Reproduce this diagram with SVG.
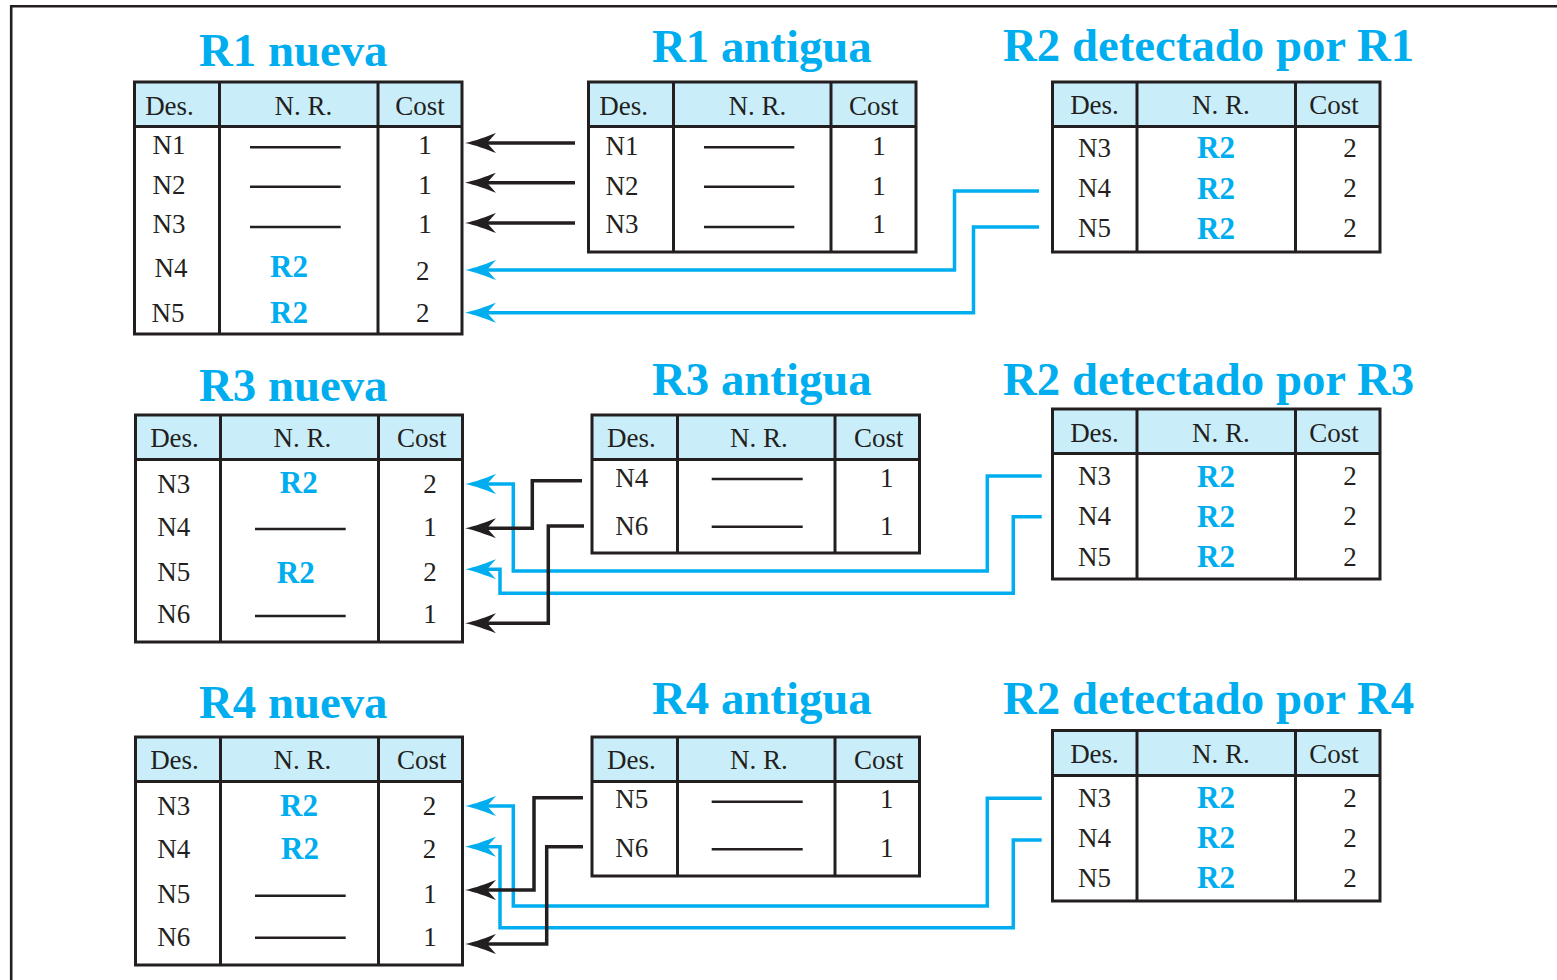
<svg xmlns="http://www.w3.org/2000/svg" width="1557" height="980" viewBox="0 0 1557 980">
<style>
.frame{fill:none;stroke:#231f20;stroke-width:2.6}
.hdr{fill:#c9eefa;stroke:none}
.box{fill:none;stroke:#231f20;stroke-width:3}
.ln{stroke:#231f20;stroke-width:3}
.dash{stroke:#231f20;stroke-width:2.6}
.t{font-family:"Liberation Serif","Times New Roman",serif;font-size:27px;fill:#231f20;text-anchor:middle}
.b{font-family:"Liberation Serif","Times New Roman",serif;font-size:31px;font-weight:bold;fill:#00aeef;text-anchor:middle}
.title{font-family:"Liberation Serif","Times New Roman",serif;font-size:46.8px;font-weight:bold;fill:#00aeef}
.ck{fill:none;stroke:#231f20;stroke-width:3.5}
.cb{fill:none;stroke:#00aeef;stroke-width:3.5}
</style>
<defs>
<marker id="ak" markerUnits="userSpaceOnUse" markerWidth="31" markerHeight="20" refX="9" refY="10" orient="auto" viewBox="0 0 31 20">
<path d="M31,10 C21,8 9,3.5 0,0 L9,10 L0,20 C9,16.5 21,12 31,10 Z" fill="#231f20"/>
</marker>
<marker id="ab" markerUnits="userSpaceOnUse" markerWidth="31" markerHeight="20" refX="9" refY="10" orient="auto" viewBox="0 0 31 20">
<path d="M31,10 C21,8 9,3.5 0,0 L9,10 L0,20 C9,16.5 21,12 31,10 Z" fill="#00aeef"/>
</marker>
</defs>
<rect width="1557" height="980" fill="#ffffff"/>
<path class="frame" d="M11.2,980 V6.2 H1557"/>

<g id="titles">
<text class="title" x="199" y="66">R1 nueva</text>
<text class="title" x="652" y="61.5">R1 antigua</text>
<text class="title" x="1003" y="61">R2 detectado por R1</text>
<text class="title" x="199" y="400.5">R3 nueva</text>
<text class="title" x="652" y="395">R3 antigua</text>
<text class="title" x="1003" y="395">R2 detectado por R3</text>
<text class="title" x="199" y="717.5">R4 nueva</text>
<text class="title" x="652" y="713.5">R4 antigua</text>
<text class="title" x="1003" y="713.5">R2 detectado por R4</text>
</g>

<g id="connectors">
<path class="cb" marker-end="url(#ab)" d="M1039,191 H954.5 V270 H487"/>
<path class="cb" marker-end="url(#ab)" d="M1039,227 H973.5 V312.7 H487"/>
<path class="ck" marker-end="url(#ak)" d="M575,143 H487"/>
<path class="ck" marker-end="url(#ak)" d="M575,182.7 H487"/>
<path class="ck" marker-end="url(#ak)" d="M575,223 H487"/>

<path class="cb" marker-end="url(#ab)" d="M1041.7,476 H987.3 V571 H513.3 V484 H487"/>
<path class="cb" marker-end="url(#ab)" d="M1041.7,516.7 H1013.3 V593.3 H500 V569.3 H487"/>
<path class="ck" marker-end="url(#ak)" d="M582,480.7 H532.3 V528.3 H487"/>
<path class="ck" marker-end="url(#ak)" d="M584,526 H548.3 V623.3 H487"/>

<path class="cb" marker-end="url(#ab)" d="M1041.7,798.3 H987.3 V906 H513.3 V806 H487"/>
<path class="cb" marker-end="url(#ab)" d="M1041.7,840 H1013.3 V927.7 H500 V846.7 H487"/>
<path class="ck" marker-end="url(#ak)" d="M583,797.7 H534 V890 H487"/>
<path class="ck" marker-end="url(#ak)" d="M583,846.7 H546.7 V944 H487"/>
</g>

<g id="r1-nueva">
<rect class="hdr" x="134.5" y="82" width="327.5" height="44.5"/>
<rect class="box" x="134.5" y="82" width="327.5" height="252"/>
<line class="ln" x1="134.5" y1="126.5" x2="462" y2="126.5"/>
<line class="ln" x1="219.5" y1="82" x2="219.5" y2="334"/>
<line class="ln" x1="378" y1="82" x2="378" y2="334"/>
<text class="t" x="169.5" y="115">Des.</text>
<text class="t" x="303.5" y="115">N. R.</text>
<text class="t" x="420" y="115">Cost</text>
<text class="t" x="169" y="154.3">N1</text>
<text class="t" x="169" y="194">N2</text>
<text class="t" x="169" y="233.3">N3</text>
<text class="t" x="171" y="276.7">N4</text>
<text class="t" x="168" y="321.7">N5</text>
<line class="dash" x1="250" y1="147.3" x2="340.7" y2="147.3"/>
<line class="dash" x1="250" y1="186.7" x2="340.7" y2="186.7"/>
<line class="dash" x1="250" y1="227" x2="340.7" y2="227"/>
<text class="b" x="289" y="276.7">R2</text>
<text class="b" x="289" y="323.3">R2</text>
<text class="t" x="425" y="154.3">1</text>
<text class="t" x="425" y="194">1</text>
<text class="t" x="425" y="233.3">1</text>
<text class="t" x="422.7" y="280">2</text>
<text class="t" x="422.7" y="321.7">2</text>
</g>

<g id="r1-antigua">
<rect class="hdr" x="588.5" y="82" width="327.5" height="44.5"/>
<rect class="box" x="588.5" y="82" width="327.5" height="170"/>
<line class="ln" x1="588.5" y1="126.5" x2="916" y2="126.5"/>
<line class="ln" x1="673.5" y1="82" x2="673.5" y2="252"/>
<line class="ln" x1="831" y1="82" x2="831" y2="252"/>
<text class="t" x="623.7" y="115">Des.</text>
<text class="t" x="757.5" y="115">N. R.</text>
<text class="t" x="873.8" y="115">Cost</text>
<text class="t" x="622" y="155">N1</text>
<text class="t" x="622" y="195">N2</text>
<text class="t" x="622" y="233">N3</text>
<line class="dash" x1="704" y1="147.3" x2="794.3" y2="147.3"/>
<line class="dash" x1="704" y1="186.7" x2="794.3" y2="186.7"/>
<line class="dash" x1="704" y1="227" x2="794.3" y2="227"/>
<text class="t" x="879" y="155">1</text>
<text class="t" x="879" y="195">1</text>
<text class="t" x="879" y="233">1</text>
</g>

<g id="r2-por-r1">
<rect class="hdr" x="1052.5" y="82" width="327.5" height="44.5"/>
<rect class="box" x="1052.5" y="82" width="327.5" height="170"/>
<line class="ln" x1="1052.5" y1="126.5" x2="1380" y2="126.5"/>
<line class="ln" x1="1137" y1="82" x2="1137" y2="252"/>
<line class="ln" x1="1295.5" y1="82" x2="1295.5" y2="252"/>
<text class="t" x="1094.5" y="113.5">Des.</text>
<text class="t" x="1221" y="113.5">N. R.</text>
<text class="t" x="1334" y="113.5">Cost</text>
<text class="t" x="1094.4" y="156.7">N3</text>
<text class="t" x="1094.4" y="196.7">N4</text>
<text class="t" x="1094.4" y="237.3">N5</text>
<text class="b" x="1216" y="158.3">R2</text>
<text class="b" x="1216" y="199.3">R2</text>
<text class="b" x="1216" y="239">R2</text>
<text class="t" x="1350" y="156.7">2</text>
<text class="t" x="1350" y="196.7">2</text>
<text class="t" x="1350" y="237.3">2</text>
</g>

<g id="r3-nueva">
<rect class="hdr" x="135.5" y="415" width="327" height="44.5"/>
<rect class="box" x="135.5" y="415" width="327" height="227"/>
<line class="ln" x1="135.5" y1="459.5" x2="462.5" y2="459.5"/>
<line class="ln" x1="220.5" y1="415" x2="220.5" y2="642"/>
<line class="ln" x1="378.5" y1="415" x2="378.5" y2="642"/>
<text class="t" x="174.5" y="447.3">Des.</text>
<text class="t" x="302.5" y="447.3">N. R.</text>
<text class="t" x="421.7" y="447.3">Cost</text>
<text class="t" x="173.7" y="492.7">N3</text>
<text class="t" x="173.7" y="536">N4</text>
<text class="t" x="173.7" y="581">N5</text>
<text class="t" x="173.7" y="622.7">N6</text>
<text class="b" x="298.7" y="493.3">R2</text>
<line class="dash" x1="255" y1="529" x2="345.7" y2="529"/>
<text class="b" x="295.8" y="582.7">R2</text>
<line class="dash" x1="255" y1="616" x2="345.7" y2="616"/>
<text class="t" x="430" y="492.7">2</text>
<text class="t" x="430" y="536">1</text>
<text class="t" x="430" y="581">2</text>
<text class="t" x="430" y="622.7">1</text>
</g>

<g id="r3-antigua">
<rect class="hdr" x="592" y="415" width="327.5" height="44.5"/>
<rect class="box" x="592" y="415" width="327.5" height="138"/>
<line class="ln" x1="592" y1="459.5" x2="919.5" y2="459.5"/>
<line class="ln" x1="677.5" y1="415" x2="677.5" y2="553"/>
<line class="ln" x1="835" y1="415" x2="835" y2="553"/>
<text class="t" x="631.3" y="446.7">Des.</text>
<text class="t" x="759" y="446.7">N. R.</text>
<text class="t" x="878.7" y="446.7">Cost</text>
<text class="t" x="631.7" y="486.7">N4</text>
<text class="t" x="631.7" y="535">N6</text>
<line class="dash" x1="711.7" y1="479" x2="802.7" y2="479"/>
<line class="dash" x1="711.7" y1="526.7" x2="802.7" y2="526.7"/>
<text class="t" x="886.7" y="486.7">1</text>
<text class="t" x="886.7" y="535">1</text>
</g>

<g id="r2-por-r3">
<rect class="hdr" x="1052.5" y="409" width="327.5" height="44.5"/>
<rect class="box" x="1052.5" y="409" width="327.5" height="170"/>
<line class="ln" x1="1052.5" y1="453.5" x2="1380" y2="453.5"/>
<line class="ln" x1="1137" y1="409" x2="1137" y2="579"/>
<line class="ln" x1="1295.5" y1="409" x2="1295.5" y2="579"/>
<text class="t" x="1094.5" y="441.5">Des.</text>
<text class="t" x="1221" y="441.5">N. R.</text>
<text class="t" x="1334" y="441.5">Cost</text>
<text class="t" x="1094.4" y="485">N3</text>
<text class="t" x="1094.4" y="525">N4</text>
<text class="t" x="1094.4" y="565.5">N5</text>
<text class="b" x="1216" y="486.5">R2</text>
<text class="b" x="1216" y="527">R2</text>
<text class="b" x="1216" y="567">R2</text>
<text class="t" x="1350" y="485">2</text>
<text class="t" x="1350" y="525">2</text>
<text class="t" x="1350" y="565.5">2</text>
</g>

<g id="r4-nueva">
<rect class="hdr" x="135.5" y="737" width="327" height="44.5"/>
<rect class="box" x="135.5" y="737" width="327" height="228"/>
<line class="ln" x1="135.5" y1="781.5" x2="462.5" y2="781.5"/>
<line class="ln" x1="220.5" y1="737" x2="220.5" y2="965"/>
<line class="ln" x1="378.5" y1="737" x2="378.5" y2="965"/>
<text class="t" x="174.5" y="769">Des.</text>
<text class="t" x="302.5" y="769">N. R.</text>
<text class="t" x="421.7" y="769">Cost</text>
<text class="t" x="173.7" y="815">N3</text>
<text class="t" x="173.7" y="858.3">N4</text>
<text class="t" x="173.7" y="903.3">N5</text>
<text class="t" x="173.7" y="946">N6</text>
<text class="b" x="299" y="815.7">R2</text>
<text class="b" x="300" y="859.3">R2</text>
<line class="dash" x1="255" y1="895.7" x2="345.7" y2="895.7"/>
<line class="dash" x1="255" y1="937.7" x2="345.7" y2="937.7"/>
<text class="t" x="429.5" y="815">2</text>
<text class="t" x="429.5" y="858.3">2</text>
<text class="t" x="430" y="903.3">1</text>
<text class="t" x="430" y="946">1</text>
</g>

<g id="r4-antigua">
<rect class="hdr" x="592" y="737" width="327.5" height="44.5"/>
<rect class="box" x="592" y="737" width="327.5" height="139"/>
<line class="ln" x1="592" y1="781.5" x2="919.5" y2="781.5"/>
<line class="ln" x1="677.5" y1="737" x2="677.5" y2="876"/>
<line class="ln" x1="835" y1="737" x2="835" y2="876"/>
<text class="t" x="631.3" y="769">Des.</text>
<text class="t" x="759" y="769">N. R.</text>
<text class="t" x="878.7" y="769">Cost</text>
<text class="t" x="631.7" y="808.3">N5</text>
<text class="t" x="631.7" y="856.7">N6</text>
<line class="dash" x1="711.7" y1="801.7" x2="802.7" y2="801.7"/>
<line class="dash" x1="711.7" y1="849.3" x2="802.7" y2="849.3"/>
<text class="t" x="886.7" y="808.3">1</text>
<text class="t" x="886.7" y="856.7">1</text>
</g>

<g id="r2-por-r4">
<rect class="hdr" x="1052.5" y="730.5" width="327.5" height="45"/>
<rect class="box" x="1052.5" y="730.5" width="327.5" height="170.5"/>
<line class="ln" x1="1052.5" y1="775.5" x2="1380" y2="775.5"/>
<line class="ln" x1="1137" y1="730.5" x2="1137" y2="901"/>
<line class="ln" x1="1295.5" y1="730.5" x2="1295.5" y2="901"/>
<text class="t" x="1094.5" y="763.3">Des.</text>
<text class="t" x="1221" y="763.3">N. R.</text>
<text class="t" x="1334" y="763.3">Cost</text>
<text class="t" x="1094.4" y="806.7">N3</text>
<text class="t" x="1094.4" y="846.7">N4</text>
<text class="t" x="1094.4" y="886.7">N5</text>
<text class="b" x="1216" y="808.3">R2</text>
<text class="b" x="1216" y="848.3">R2</text>
<text class="b" x="1216" y="888.3">R2</text>
<text class="t" x="1350" y="806.7">2</text>
<text class="t" x="1350" y="846.7">2</text>
<text class="t" x="1350" y="886.7">2</text>
</g>
</svg>
